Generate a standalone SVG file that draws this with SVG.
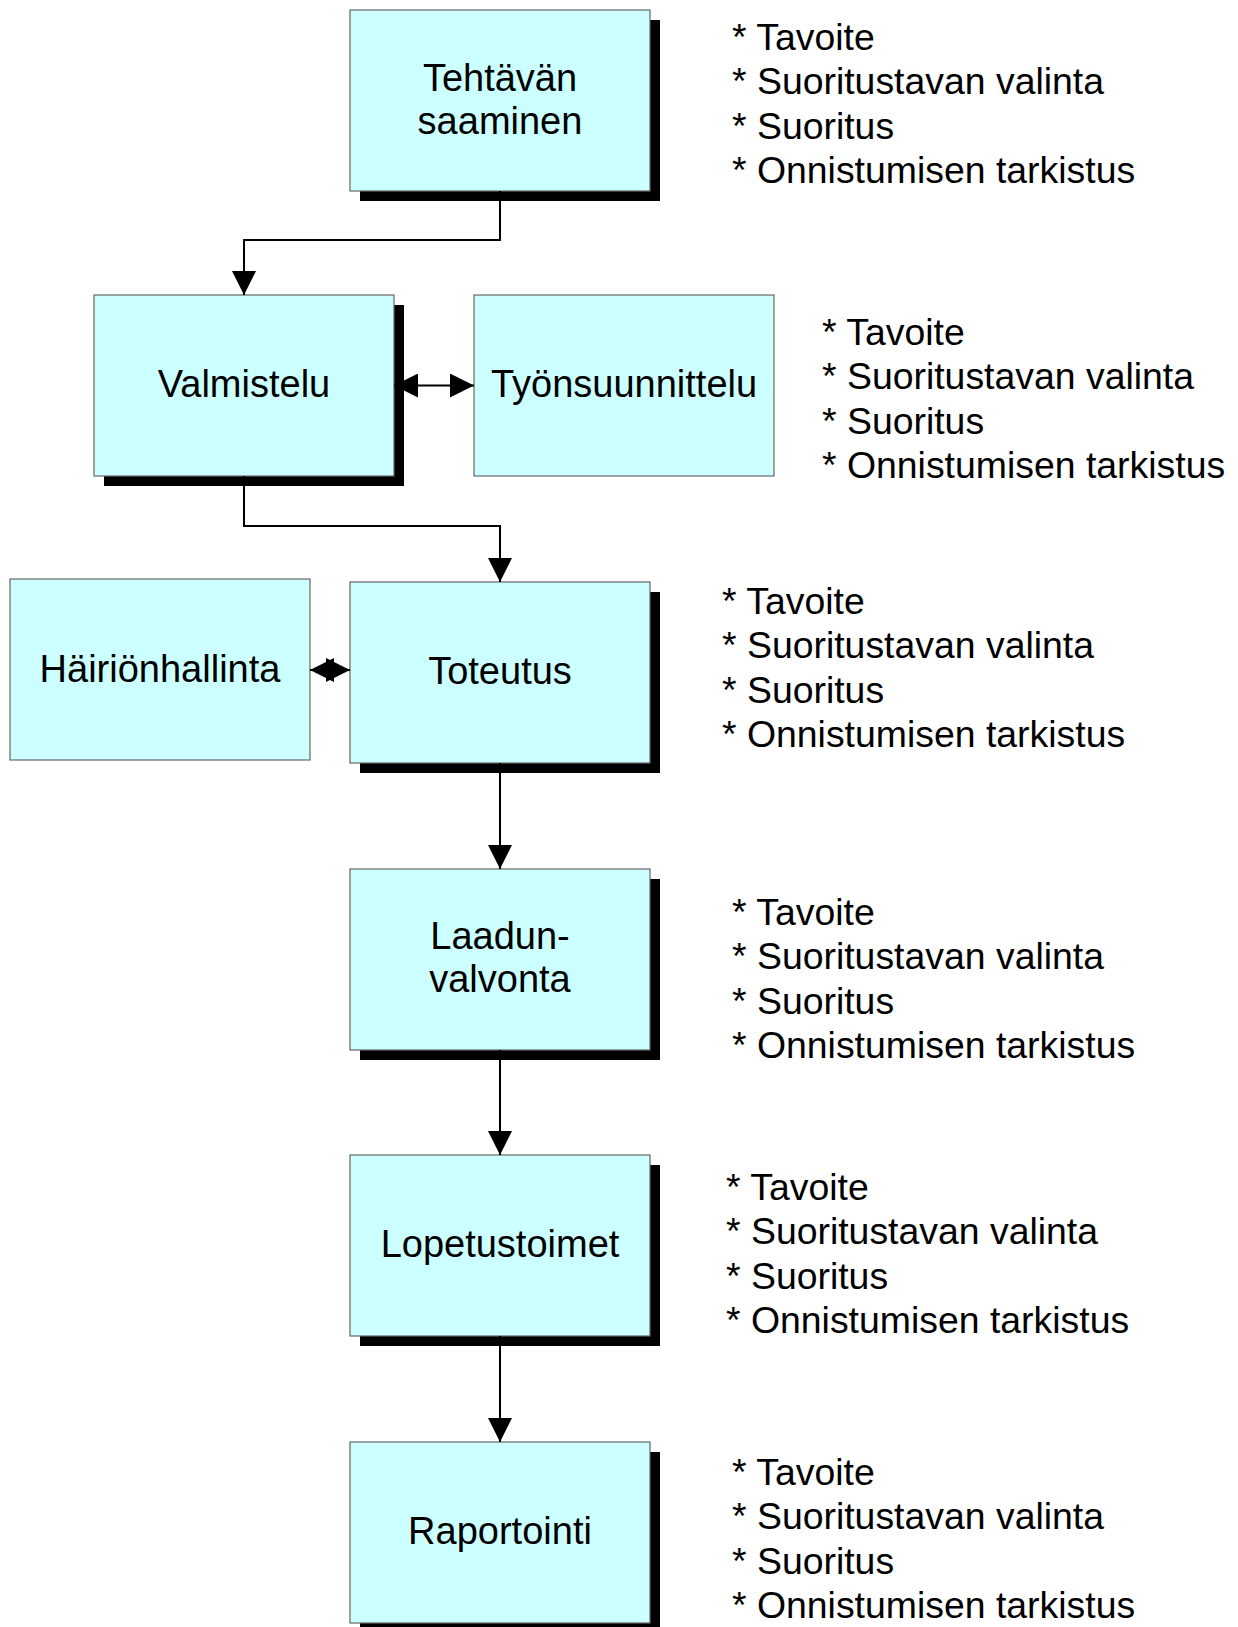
<svg xmlns="http://www.w3.org/2000/svg" width="1238" height="1627" viewBox="0 0 1238 1627">
  <style>
    .box { fill: #ccffff; stroke: #666666; stroke-width: 1.2; }
    .shadow { fill: #000000; }
    .label { font-family: "Liberation Sans", Arial, Helvetica, sans-serif; font-size: 38px; fill: #000000; text-anchor: middle; }
    .notes { font-family: "Liberation Sans", Arial, Helvetica, sans-serif; font-size: 37.4px; fill: #000000; }
    .conn { fill: none; stroke: #000000; stroke-width: 2; }
  </style>
  <defs>
    <marker id="arrow" viewBox="0 0 24 24" refX="24" refY="12" markerWidth="24" markerHeight="24" markerUnits="userSpaceOnUse" orient="auto-start-reverse">
      <path d="M0,0 L24,12 L0,24 Z" fill="#000000"/>
    </marker>
  </defs>
  <rect width="1238" height="1627" fill="#ffffff"/>

  <!-- process steps -->
  <g id="node-tehtavan-saaminen">
    <rect class="shadow" x="360" y="20" width="300" height="181"/>
    <rect class="box" x="350" y="10" width="300" height="181"/>
    <text class="label" x="500" y="91">Tehtävän</text>
    <text class="label" x="500" y="134">saaminen</text>
  </g>
  <g id="node-valmistelu">
    <rect class="shadow" x="104" y="305" width="300" height="181"/>
    <rect class="box" x="94" y="295" width="300" height="181"/>
    <text class="label" x="244" y="397">Valmistelu</text>
  </g>
  <g id="node-tyonsuunnittelu">
    <rect class="box" x="474" y="295" width="300" height="181"/>
    <text class="label" x="624" y="397">Työnsuunnittelu</text>
  </g>
  <g id="node-hairionhallinta">
    <rect class="box" x="10" y="579" width="300" height="181"/>
    <text class="label" x="160" y="682">Häiriönhallinta</text>
  </g>
  <g id="node-toteutus">
    <rect class="shadow" x="360" y="592" width="300" height="181"/>
    <rect class="box" x="350" y="582" width="300" height="181"/>
    <text class="label" x="500" y="684">Toteutus</text>
  </g>
  <g id="node-laadunvalvonta">
    <rect class="shadow" x="360" y="879" width="300" height="181"/>
    <rect class="box" x="350" y="869" width="300" height="181"/>
    <text class="label" x="500" y="949">Laadun-</text>
    <text class="label" x="500" y="992">valvonta</text>
  </g>
  <g id="node-lopetustoimet">
    <rect class="shadow" x="360" y="1165" width="300" height="181"/>
    <rect class="box" x="350" y="1155" width="300" height="181"/>
    <text class="label" x="500" y="1257">Lopetustoimet</text>
  </g>
  <g id="node-raportointi">
    <rect class="shadow" x="360" y="1452" width="300" height="181"/>
    <rect class="box" x="350" y="1442" width="300" height="181"/>
    <text class="label" x="500" y="1544">Raportointi</text>
  </g>

  <!-- connectors -->
  <g id="connectors">
    <path class="conn" d="M500,191 V240 H244 V295" marker-end="url(#arrow)"/>
    <path class="conn" d="M394,385.5 H474" marker-start="url(#arrow)" marker-end="url(#arrow)"/>
    <path class="conn" d="M244,476 V526 H500 V582" marker-end="url(#arrow)"/>
    <path class="conn" d="M310,670 H350" marker-start="url(#arrow)" marker-end="url(#arrow)"/>
    <path class="conn" d="M500,763 V869" marker-end="url(#arrow)"/>
    <path class="conn" d="M500,1050 V1155" marker-end="url(#arrow)"/>
    <path class="conn" d="M500,1336 V1442" marker-end="url(#arrow)"/>
  </g>

  <!-- checklists beside the steps -->
  <g id="notes-1">
    <text class="notes" x="732" y="50"><tspan x="732">* Tavoite</tspan><tspan x="732" dy="44.3">* Suoritustavan valinta</tspan><tspan x="732" dy="44.3">* Suoritus</tspan><tspan x="732" dy="44.3">* Onnistumisen tarkistus</tspan></text>
  </g>
  <g id="notes-2">
    <text class="notes" x="822" y="345"><tspan x="822">* Tavoite</tspan><tspan x="822" dy="44.3">* Suoritustavan valinta</tspan><tspan x="822" dy="44.3">* Suoritus</tspan><tspan x="822" dy="44.3">* Onnistumisen tarkistus</tspan></text>
  </g>
  <g id="notes-3">
    <text class="notes" x="722" y="614"><tspan x="722">* Tavoite</tspan><tspan x="722" dy="44.3">* Suoritustavan valinta</tspan><tspan x="722" dy="44.3">* Suoritus</tspan><tspan x="722" dy="44.3">* Onnistumisen tarkistus</tspan></text>
  </g>
  <g id="notes-4">
    <text class="notes" x="732" y="925"><tspan x="732">* Tavoite</tspan><tspan x="732" dy="44.3">* Suoritustavan valinta</tspan><tspan x="732" dy="44.3">* Suoritus</tspan><tspan x="732" dy="44.3">* Onnistumisen tarkistus</tspan></text>
  </g>
  <g id="notes-5">
    <text class="notes" x="726" y="1200"><tspan x="726">* Tavoite</tspan><tspan x="726" dy="44.3">* Suoritustavan valinta</tspan><tspan x="726" dy="44.3">* Suoritus</tspan><tspan x="726" dy="44.3">* Onnistumisen tarkistus</tspan></text>
  </g>
  <g id="notes-6">
    <text class="notes" x="732" y="1485"><tspan x="732">* Tavoite</tspan><tspan x="732" dy="44.3">* Suoritustavan valinta</tspan><tspan x="732" dy="44.3">* Suoritus</tspan><tspan x="732" dy="44.3">* Onnistumisen tarkistus</tspan></text>
  </g>
</svg>
